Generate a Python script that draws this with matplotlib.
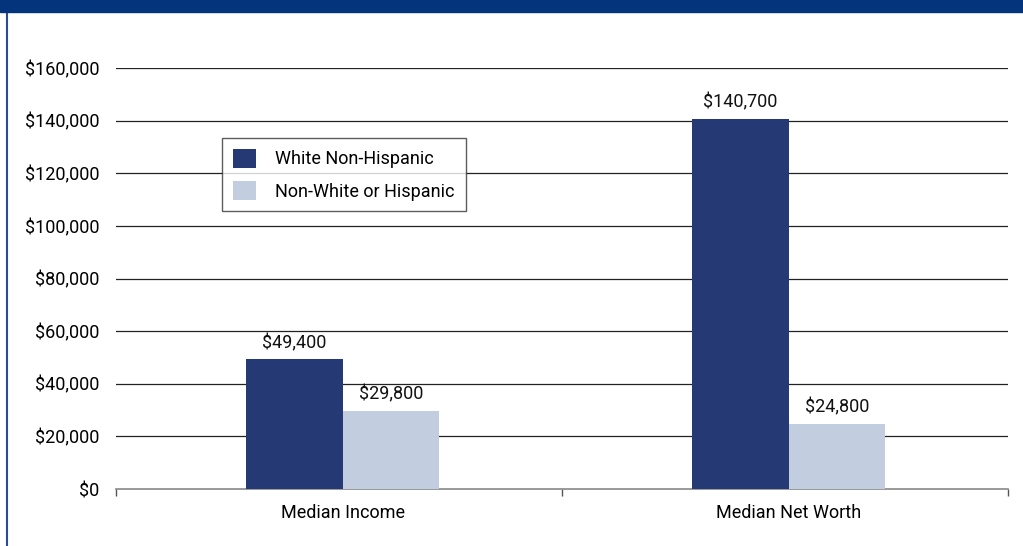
import numpy as np
import matplotlib.pyplot as plt
from matplotlib.patches import Rectangle
from matplotlib.lines import Line2D

plt.rcParams['font.family'] = ['Roboto', 'DejaVu Sans']

categories = ['Median Income', 'Median Net Worth']
white = [49400, 140700]
nonwhite = [29800, 24800]
series_names = ['White Non-Hispanic', 'Non-White or Hispanic']
yticks = [0, 20000, 40000, 60000, 80000, 100000, 120000, 140000, 160000]

dark = '#253a75'
light = '#c2cde0'

fig = plt.figure(figsize=(10.23, 5.46), dpi=100)
ax = fig.add_axes([116/1023, 1-489/546, (1008-116)/1023, (489-68)/546])

x = np.arange(len(categories)) + 0.008
w = 0.217
b1 = ax.bar(x - w/2, white, w, color=dark, label=series_names[0], zorder=3)
b2 = ax.bar(x + w/2, nonwhite, w, color=light, label=series_names[1], zorder=3)

for bars in (b1, b2):
    for r in bars:
        h = r.get_height()
        ax.annotate('${:,.0f}'.format(h), (r.get_x() + r.get_width()/2, h),
                    xytext=(0, 5), textcoords='offset points',
                    ha='center', va='bottom', fontsize=13, color='#111111')

ax.set_xlim(-0.5, 1.5)
ax.set_ylim(0, 160000)
ax.set_yticks(yticks)
ax.set_yticklabels(['${:,}'.format(v) for v in yticks], fontsize=13)
ax.tick_params(axis='y', length=0, pad=12)
ax.set_xticks(x)
ax.set_xticklabels(categories, fontsize=13)
ax.tick_params(axis='x', which='major', length=0, pad=11)
ax.set_xticks([-0.5, 0.5, 1.5], minor=True)
ax.tick_params(axis='x', which='minor', length=5, color='#555555', width=1)

for v in yticks[1:]:
    ax.axhline(v, color='#222222', lw=0.9, zorder=1)

for s in ['top', 'right', 'left']:
    ax.spines[s].set_visible(False)
ax.spines['bottom'].set_color('#888888')
ax.spines['bottom'].set_linewidth(1.2)

leg = ax.legend(loc='upper left', bbox_to_anchor=(0.119, 0.834), fontsize=13,
                frameon=True, fancybox=False, edgecolor='#333333',
                handlelength=1.25, handleheight=1.25, borderpad=0.6,
                labelspacing=0.7, handletextpad=1.1, borderaxespad=0)
leg.get_frame().set_linewidth(1.0)
leg.set_zorder(5)

# header band and left border
fig.patches.append(Rectangle((0, 1 - 12/546), 1, 12/546, transform=fig.transFigure,
                             color='#04347c', zorder=10))
fig.lines.append(Line2D([6.5/1023, 6.5/1023], [0, 1], transform=fig.transFigure,
                        color='#2a4a9a', lw=1.5))

fig.savefig('out.png', dpi=100)
